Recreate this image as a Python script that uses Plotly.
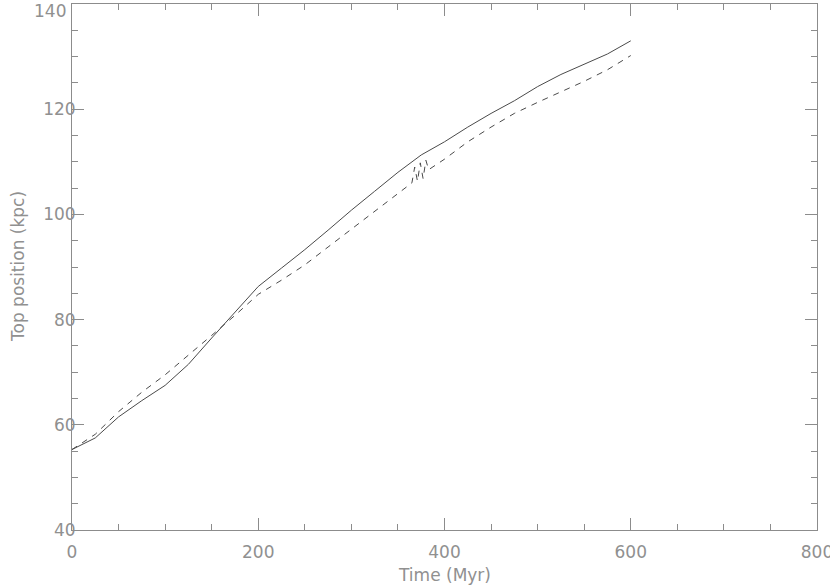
import plotly.graph_objects as go

# Solid curve
t_solid = [0, 25, 50, 75, 100, 125, 150, 175, 200, 225, 250, 275, 300, 325, 350,
           375, 400, 425, 450, 475, 500, 525, 550, 575, 600]
v_solid = [55.3, 57.5, 61.5, 64.6, 67.5, 71.5, 76.5, 81.5, 86.3, 89.8, 93.3, 97.0,
           100.8, 104.4, 108.0, 111.3, 113.8, 116.6, 119.2, 121.6, 124.3, 126.6,
           128.5, 130.5, 133.0]

# Dashed curve
t_dash = [0, 25, 50, 75, 100, 125, 150, 175, 200, 225, 250, 275, 300, 325, 350,
          365, 368, 371, 374, 377, 380, 383, 400, 425, 450, 475, 500, 525, 550,
          575, 600]
v_dash = [55.3, 58.2, 62.5, 66.2, 69.5, 73.2, 77.0, 80.8, 84.8, 87.5, 90.4, 93.8,
          97.2, 100.6, 104.0, 106.0, 109.0, 106.3, 109.8, 106.8, 110.3, 108.5,
          110.5, 113.8, 116.6, 119.2, 121.3, 123.3, 125.3, 127.5, 130.2]

x_ticks = [0, 200, 400, 600, 800]
y_ticks = [40, 60, 80, 100, 120, 140]
y_tick_text = ["40", "60", "80", "100", "120", ""]   # top label drawn below, see annotation
y_top_label = "140"

x_title = "Time (Myr)"
y_title = "Top position (kpc)"

line_col = "#4a4a4a"
axis_col = "#8c8c8c"
text_col = "#909090"
FONT = "DejaVu Sans, Liberation Sans, sans-serif"

fig = go.Figure()
fig.add_trace(go.Scatter(x=t_solid, y=v_solid, mode="lines",
                         line=dict(color=line_col, width=1)))
fig.add_trace(go.Scatter(x=t_dash, y=v_dash, mode="lines",
                         line=dict(color=line_col, width=1, dash="6px,6px")))

axis_common = dict(
    showgrid=False, zeroline=False, showline=True, linecolor=axis_col, linewidth=1,
    mirror="allticks", ticks="inside", ticklen=12, tickcolor=axis_col, tickwidth=1,
    tickfont=dict(family=FONT, size=17, color=text_col),
    automargin=False, ticklabeloverflow="allow",
)

fig.update_xaxes(range=[0, 800], tickvals=x_ticks, ticktext=[str(v) for v in x_ticks],
                 minor=dict(dtick=50, ticks="inside", ticklen=6, tickcolor=axis_col),
                 ticklabelstandoff=7,
                 **axis_common)
fig.update_yaxes(range=[40, 140], tickvals=y_ticks, ticktext=y_tick_text,
                 minor=dict(dtick=5, ticks="inside", ticklen=6, tickcolor=axis_col),
                 ticklabelstandoff=-8,
                 **axis_common)

fig.add_annotation(text=y_top_label, xref="paper", yref="y", x=0, y=y_ticks[-1],
                   xanchor="right", yanchor="middle", xshift=-4, yshift=-7,
                   showarrow=False, font=dict(family=FONT, size=17, color=text_col))
fig.add_annotation(text=x_title, xref="paper", yref="paper", x=0.5, y=0,
                   xanchor="center", yanchor="middle", yshift=-45, showarrow=False,
                   font=dict(family=FONT, size=17, color=text_col))
fig.add_annotation(text=y_title, xref="paper", yref="paper", x=0, y=0.5,
                   xanchor="center", yanchor="middle", xshift=-54, textangle=-90,
                   showarrow=False, font=dict(family=FONT, size=17, color=text_col))

fig.update_layout(width=830, height=585, showlegend=False,
                  plot_bgcolor="white", paper_bgcolor="white",
                  margin=dict(l=72, r=13, t=4, b=55))

fig.write_html("out.html", config={"displayModeBar": False},
               post_script="document.body.style.margin='0';document.body.style.overflow='hidden';")
